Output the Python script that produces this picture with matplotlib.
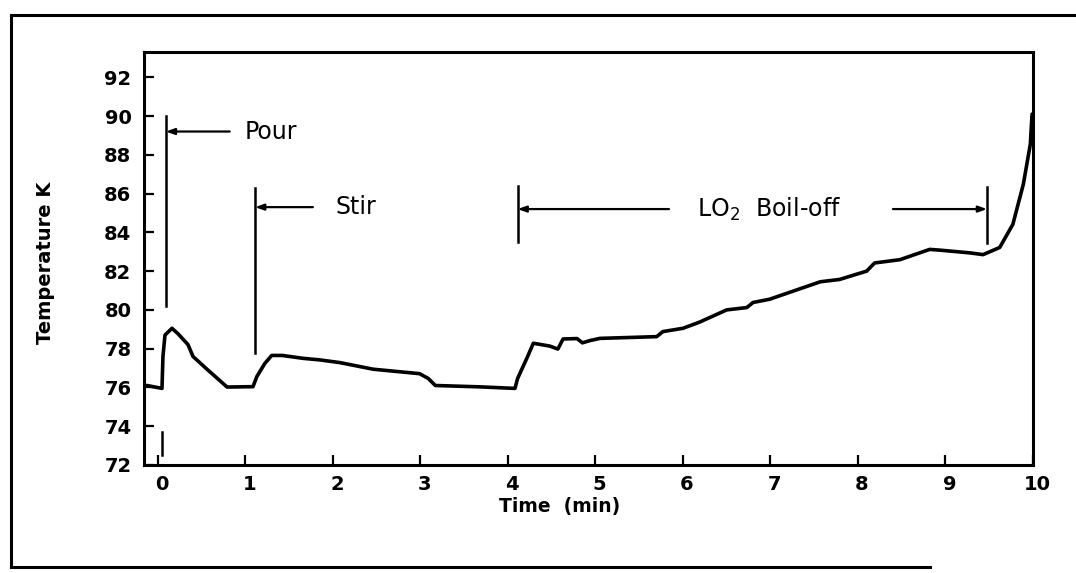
import matplotlib
matplotlib.use("Agg")
import matplotlib.pyplot as plt
from matplotlib.lines import Line2D
from matplotlib.transforms import ScaledTranslation

# Curva de temperatura (tiempo en min, temperatura en K)
tiempo = [-0.15, -0.126, 0.046, 0.057, 0.08, 0.16, 0.229, 0.343, 0.40, 0.56,
          0.79, 1.086, 1.13, 1.22, 1.30, 1.42, 1.66, 1.85, 2.08, 2.46,
          2.99, 3.09, 3.17, 3.68, 4.08, 4.11, 4.22, 4.29, 4.48, 4.57,
          4.63, 4.79, 4.85, 4.94, 5.05, 5.70, 5.77, 6.00, 6.19, 6.50,
          6.73, 6.80, 6.99, 7.57, 7.79, 8.10, 8.19, 8.48, 8.82, 8.94,
          9.28, 9.43, 9.62, 9.77, 9.89, 9.97, 9.99]
temperatura = [76.1, 76.1, 75.95, 77.6, 78.7, 79.05, 78.77, 78.21, 77.6, 76.94,
               76.02, 76.04, 76.56, 77.23, 77.65, 77.65, 77.5, 77.42, 77.28, 76.94,
               76.71, 76.46, 76.1, 76.03, 75.95, 76.46, 77.55, 78.28, 78.13, 77.98,
               78.5, 78.52, 78.3, 78.42, 78.53, 78.62, 78.88, 79.05, 79.37, 80.0,
               80.12, 80.38, 80.55, 81.45, 81.57, 82.0, 82.42, 82.59, 83.12, 83.08,
               82.94, 82.85, 83.22, 84.41, 86.48, 88.55, 90.1]

# Marcas de eventos: (tiempo, y_min, y_max)
eventos = [(0.09, 80.2, 90.0), (1.11, 77.8, 86.3), (4.11, 83.5, 86.4), (9.475, 83.45, 86.35)]
etiquetas = ["Pour", "Stir", "LO$_2$  Boil-off"]
flechas = [(0.82, 0.09, 89.2), (1.77, 1.11, 85.3), (5.84, 4.11, 85.2), (8.40, 9.475, 85.2)]
posTexto = [(0.99, 89.2), (2.03, 85.3), (6.16, 85.2)]

ticksX = list(range(0, 11))
ticksY = list(range(72, 93, 2))

fig = plt.figure(figsize=(10.76, 5.73), dpi=100)
ax = fig.add_axes([0.1338, 0.1885, 0.8262, 0.7207])

ax.plot(tiempo, temperatura, color="black", linewidth=2.6,
        solid_joinstyle="round", solid_capstyle="round")

# Lineas verticales de los eventos
for t, y0, y1 in eventos:
    ax.plot([t, t], [y0, y1], color="black", linewidth=1.8)

# Pequena marca cerca del origen
ax.plot([0.05, 0.05], [72.5, 73.7], color="black", linewidth=1.8)

# Flechas horizontales
for x0, x1, y in flechas:
    ax.annotate("", xy=(x1, y), xytext=(x0, y),
                arrowprops=dict(arrowstyle="-|>,head_length=0.5,head_width=0.18",
                                color="black", linewidth=1.6, shrinkA=0, shrinkB=0))

for texto, (x, y) in zip(etiquetas, posTexto):
    ax.text(x, y, texto, fontsize=17, va="center", ha="left", color="black")

ax.set_xlim(-0.16, 10.0)
ax.set_ylim(72, 93.3)
ax.set_xticks(ticksX)
ax.set_yticks(ticksY)
ax.tick_params(direction="in", length=7, width=1.6, labelsize=14, pad=9)
ax.tick_params(axis="x", pad=7)
for lab in ax.get_xticklabels() + ax.get_yticklabels():
    lab.set_fontweight("bold")
# Las etiquetas del eje X estan algo desplazadas a la derecha en el original
desplazamiento = ScaledTranslation(4 / 100, 0, fig.dpi_scale_trans)
for lab in ax.get_xticklabels():
    lab.set_transform(lab.get_transform() + desplazamiento)

for s in ax.spines.values():
    s.set_linewidth(2.2)

ax.set_ylabel("Temperature K", fontsize=14, fontweight="bold", va="center")
ax.yaxis.set_label_coords(-0.111, 0.49)
ax.set_xlabel("Time  (min)", fontsize=13.5, fontweight="bold", va="center")
ax.xaxis.set_label_coords(0.468, -0.1)

# Marco exterior de la figura (lado derecho fuera de la imagen)
fig.add_artist(Line2D([0.0102, 0.0102], [0.0105, 0.9738], color="black", linewidth=2.2))
fig.add_artist(Line2D([0.0102, 1.0], [0.9738, 0.9738], color="black", linewidth=2.2))
fig.add_artist(Line2D([0.0102, 0.864], [0.0105, 0.0105], color="black", linewidth=2.2))

fig.savefig("out.png", dpi=100)
